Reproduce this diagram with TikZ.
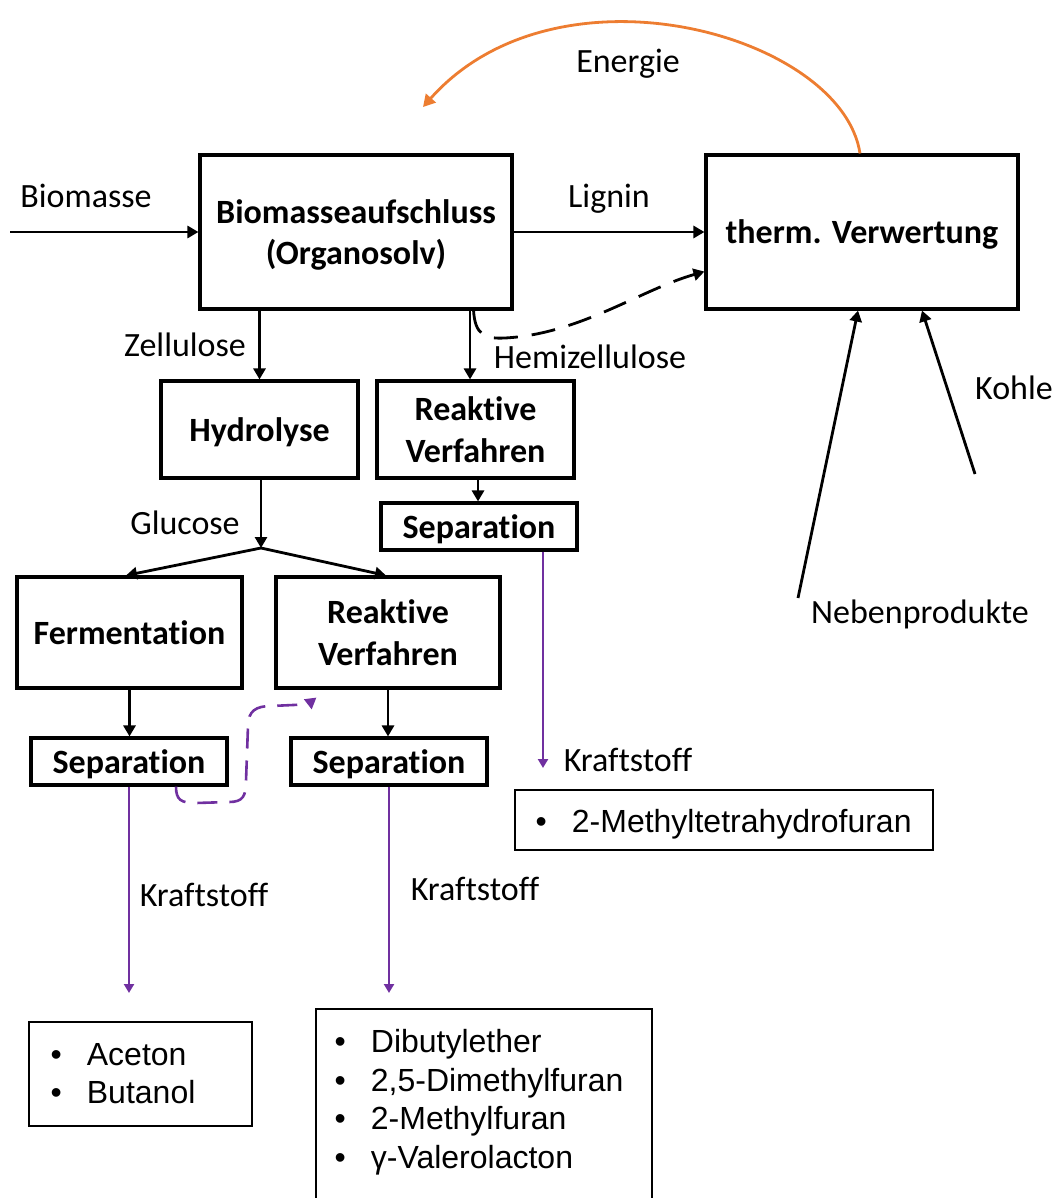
\documentclass[tikz,border=0pt]{standalone}
\usepackage{fontspec}
\setmainfont{Carlito}[Ligatures=NoCommon]
\newfontfamily\listfont{Liberation Sans}
\usetikzlibrary{arrows.meta}
\definecolor{fuelpurple}{RGB}{112,48,160}
\definecolor{energyorange}{RGB}{237,125,49}

\begin{document}
\begin{tikzpicture}[x=1pt, y=-1pt,
  proc/.style={draw, line width=3.1pt, align=center, inner sep=0pt, text depth=0pt,
    font=\bfseries\fontsize{34}{41.5}\selectfont},
  lbl/.style={inner sep=0pt, anchor=base, font=\fontsize{34}{41}\selectfont},
  listframe/.style={draw, line width=1.8pt, inner sep=0pt},
  listtext/.style={inner sep=0pt, anchor=west, font=\listfont\fontsize{32}{38.5}\selectfont},
  flow/.style={line width=2.8pt, -{Triangle[length=11pt,width=12pt]}},
  fuel/.style={draw=fuelpurple, line width=2.6pt, -{Triangle[length=9pt,width=10pt]}},
  recycle/.style={draw=fuelpurple, line width=2.6pt, dash pattern=on 20pt off 12pt,
    -{Triangle[length=11pt,width=12pt]}},
  feedback/.style={line width=2.8pt, dash pattern=on 24pt off 14pt,
    -{Triangle[length=11pt,width=12pt]}},
  energy/.style={draw=energyorange, line width=2.8pt, -{Triangle[length=12pt,width=13pt]}}
]
\useasboundingbox (0,0) rectangle (1054,1198);
\clip (0,0) rectangle (1054,1198);

% process steps
\node[proc, minimum width=312pt, minimum height=154pt] (bio) at (356,232) {Biomasseaufschluss\\(Organosolv)};
\node[proc, minimum width=312pt, minimum height=154pt] (therm) at (862,232) {therm. Verwertung};
\node[proc, minimum width=197pt, minimum height=97pt] (hyd) at (259.5,429.5) {Hydrolyse};
\node[proc, minimum width=197pt, minimum height=97pt] (rvT) at (475.5,429.5) {Reaktive\\Verfahren};
\node[proc, minimum width=196pt, minimum height=47pt] (sepT) at (479,526.5) {Separation};
\node[proc, minimum width=225pt, minimum height=111pt] (ferm) at (129.5,632.5) {Fermentation};
\node[proc, minimum width=224pt, minimum height=111pt] (rvB) at (388,632.5) {Reaktive\\Verfahren};
\node[proc, minimum width=196pt, minimum height=47pt] (sepL) at (129,761.5) {Separation};
\node[proc, minimum width=196pt, minimum height=47pt] (sepM) at (389,761.5) {Separation};

% product lists
\node[listframe, minimum width=418pt, minimum height=60pt] (mthfbox) at (724,820) {};
\node[listtext] (mthf) at (535.5,825) {\begin{tabular}{@{}l@{\hspace{25pt}}l@{}}•&2-Methyltetrahydrofuran\end{tabular}};
\node[listframe, minimum width=223pt, minimum height=104pt] (abebox) at (140.5,1074) {};
\node[listtext] (abe) at (50.5,1077) {\begin{tabular}{@{}l@{\hspace{25pt}}l@{}}•&Aceton\\•&Butanol\end{tabular}};
\node[listframe, minimum width=336pt, minimum height=260pt, anchor=north west] (fuelbox) at (315,1008) {};
\node[listtext] (fuels) at (334.5,1103) {\begin{tabular}{@{}l@{\hspace{25pt}}l@{}}•&Dibutylether\\•&2,5-Dimethylfuran\\•&2-Methylfuran\\•&γ-Valerolacton\end{tabular}};

% free ends
\coordinate (bin) at (10,232);
\coordinate (hz) at (470,0);
\coordinate (rs) at (478,0);
\coordinate (split) at (261,548);
\coordinate (kL) at (129,993);
\coordinate (kM) at (389,993);
\coordinate (kR) at (543,768);
\coordinate (np) at (798,598);
\coordinate (kc) at (975,474);
\coordinate (etip) at (423,107);

% main flows
\draw[flow] (bin) -- (bio.west);
\draw[flow] (bio.east) -- (therm.west);
\draw[flow] (hyd.north |- bio.south) -- (hyd.north);
\draw[flow] (hz |- bio.south) -- (hz |- rvT.north);
\draw[flow] (split |- hyd.south) -- (split);
\draw[flow] (split) -- ([xshift=-3.5pt]ferm.north);
\draw[flow] (split) -- ([xshift=-2pt]rvB.north);
\draw[flow] (rs |- rvT.south) -- (rs |- sepT.north);
\draw[flow] (ferm.south) -- (ferm.south |- sepL.north);
\draw[flow] (rvB.south) -- (rvB.south |- sepM.north);
\draw[flow] (np) -- ([xshift=-4pt]therm.south);
\draw[flow] (kc) -- ([xshift=60pt]therm.south);

% fuel outlets
\draw[fuel] (sepL.south) -- (kL);
\draw[fuel] (sepM.south) -- (kM);
\draw[fuel] (kR |- sepT.south) -- (kR);

% recycle from left separation into the lower reactive step
\draw[recycle] ([xshift=47pt]sepL.south) .. controls (176,800) and (181,803) .. (196,803)
  -- (229,802) .. controls (243,802) and (246,796) .. (246,781)
  -- (248,726) .. controls (248,711) and (256,706) .. (271,706)
  -- (293,705) .. controls (303,705) and (312,701) .. ([xshift=42pt,yshift=-8pt]rvB.south west);

% hemicellulose residue to thermal use
\draw[feedback] ([xshift=-40pt]bio.south east) .. controls (475,335) and (485,339) .. (505,338)
  .. controls (580,334) and (640,290) .. ([yshift=39pt]therm.south west);

% energy return
\draw[energy] ([xshift=-2pt]therm.north) .. controls (842,35) and (558,-45) .. (etip);

% labels
\node[lbl] (lbiomasse) at (86,208) {Biomasse};
\node[lbl] (llignin) at (609,208) {Lignin};
\node[lbl] (lenergie) at (628,73) {Energie};
\node[lbl] (lzell) at (185,356) {Zellulose};
\node[lbl] (lhemi) at (590,368) {Hemizellulose};
\node[lbl] (lglucose) at (185,534) {Glucose};
\node[lbl] (lkohle) at (1014,399) {Kohle};
\node[lbl] (lneben) at (920,623) {Nebenprodukte};
\node[lbl] (lkL) at (204,906) {Kraftstoff};
\node[lbl] (lkM) at (475,900) {Kraftstoff};
\node[lbl] (lkR) at (628,771) {Kraftstoff};
\end{tikzpicture}
\end{document}
